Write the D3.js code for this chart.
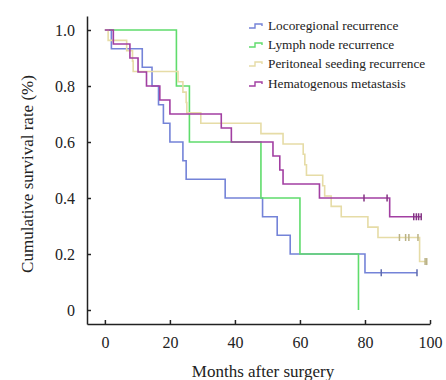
<!DOCTYPE html>
<html>
<head>
<meta charset="utf-8">
<script src="https://cdn.jsdelivr.net/npm/d3@7"></script>
<style>
  body { margin: 0; background: #fff; }
  svg { display: block; }
  .axis text { font-family: "Liberation Serif", "DejaVu Serif", serif; font-size: 16px; fill: #222; }
  .axis path, .axis line { stroke: #222; stroke-width: 1.5; }
</style>
</head>
<body>
<div id="chart"></div>
<script>
// survival steps (time in months, survival rate)
var locoTimes = [0, 2, 11.5, 14.5, 16.5, 18, 20, 24, 25, 37, 48.5, 53, 57, 80, 96];
var locoSurv = [1, 0.933, 0.867, 0.8, 0.733, 0.667, 0.6, 0.533, 0.467, 0.4, 0.333, 0.267, 0.2, 0.133, 0.133];
var locoCensor = [85, 96];

var lymphTimes = [0, 22, 26, 48, 60, 78];
var lymphSurv = [1, 0.8, 0.6, 0.4, 0.2, 0];
var lymphCensor = [];

var periTimes = [0, 1, 6.7, 8.5, 8.7, 22.5, 24, 25, 25.2, 29.5, 48, 54.8, 61, 61.5, 62, 67, 67.6, 69.6, 72.7, 80.9, 84, 96.8, 99];
var periSurv = [1, 0.963, 0.926, 0.889, 0.852, 0.815, 0.778, 0.741, 0.704, 0.667, 0.63, 0.593, 0.556, 0.519, 0.481, 0.444, 0.407, 0.37, 0.333, 0.296, 0.259, 0.173, 0.173];
var periCensor = [90.6, 92.5, 93.5, 96.3, 98.5, 99];

var hemaTimes = [0, 2.6, 7.7, 10.2, 12.8, 16.9, 20, 35.8, 38.9, 51.7, 53.8, 54.8, 66, 87.6, 97.3];
var hemaSurv = [1, 0.95, 0.9, 0.85, 0.8, 0.75, 0.7, 0.65, 0.6, 0.55, 0.5, 0.45, 0.4, 0.333, 0.333];
var hemaCensor = [79.7, 86.8, 95, 95.8, 96.5, 97.3];

var seriesNames = ['Locoregional recurrence', 'Lymph node recurrence', 'Peritoneal seeding recurrence', 'Hematogenous metastasis'];
var seriesColors = ['#7483d8', '#5fdc6c', '#e6dca6', '#a23fa2'];

var xTicks = [0, 20, 40, 60, 80, 100];
var yTicks = [0, 0.2, 0.4, 0.6, 0.8, 1.0];

var W = 446, H = 380;

var series = [
  { name: seriesNames[0], color: seriesColors[0], t: locoTimes, s: locoSurv, c: locoCensor },
  { name: seriesNames[1], color: seriesColors[1], t: lymphTimes, s: lymphSurv, c: lymphCensor },
  { name: seriesNames[2], color: seriesColors[2], t: periTimes, s: periSurv, c: periCensor },
  { name: seriesNames[3], color: seriesColors[3], t: hemaTimes, s: hemaSurv, c: hemaCensor }
];

var svg = d3.select('#chart').append('svg')
  .attr('width', W)
  .attr('height', H);

var xScale = d3.scaleLinear().domain([-5.5, 100]).range([87, 430]);
var yScale = d3.scaleLinear().domain([-0.05, 1.05]).range([324, 16]);

var xAxis = d3.axisBottom(xScale).tickValues(xTicks).tickSizeInner(-4).tickSizeOuter(0).tickPadding(13);
var yAxis = d3.axisLeft(yScale).tickValues(yTicks).tickSizeInner(-4).tickSizeOuter(0).tickPadding(12)
  .tickFormat(function(d) { return d === 0 ? '0' : d3.format('.1f')(d); });

svg.append('g')
  .attr('class', 'axis xaxis')
  .attr('transform', 'translate(0,324)')
  .call(xAxis);

svg.append('g')
  .attr('class', 'axis yaxis')
  .attr('transform', 'translate(87,0)')
  .call(yAxis);

svg.append('text')
  .attr('font-family', '"Liberation Serif", serif')
  .attr('font-size', 17)
  .attr('fill', '#222')
  .attr('text-anchor', 'middle')
  .attr('x', 263)
  .attr('y', 377)
  .text('Months after surgery');

svg.append('text')
  .attr('font-family', '"Liberation Serif", serif')
  .attr('font-size', 17)
  .attr('fill', '#222')
  .attr('text-anchor', 'middle')
  .attr('transform', 'translate(33,174) rotate(270)')
  .text('Cumulative survival rate (%)');

var line = d3.line()
  .x(function(d) { return xScale(d[0]); })
  .y(function(d) { return yScale(d[1]); })
  .curve(d3.curveStepAfter);

function survAt(sr, t) {
  var i = d3.bisectRight(sr.t, t) - 1;
  return sr.s[Math.max(i, 0)];
}

series.forEach(function(sr) {
  var pts = sr.t.map(function(t, i) { return [t, sr.s[i]]; });
  svg.append('path')
    .datum(pts)
    .attr('fill', 'none')
    .attr('stroke', sr.color)
    .attr('stroke-width', 1.6)
    .attr('d', line);

  svg.selectAll(null)
    .data(sr.c)
    .enter().append('line')
    .attr('x1', function(d) { return xScale(d); })
    .attr('x2', function(d) { return xScale(d); })
    .attr('y1', function(d) { return yScale(survAt(sr, d)) - 3.5; })
    .attr('y2', function(d) { return yScale(survAt(sr, d)) + 3.5; })
    .attr('stroke', d3.color(sr.color).darker(0.6))
    .attr('stroke-width', 1.5);
});

// legend
var legendY = [26, 45, 64, 84];
var lg = svg.append('g').attr('class', 'legend');
series.forEach(function(sr, i) {
  var gy = legendY[i];
  lg.append('path')
    .attr('d', 'M249,' + (gy + 2) + 'h6v-4h7v2')
    .attr('fill', 'none')
    .attr('stroke', sr.color)
    .attr('stroke-width', 1.4);
  lg.append('text')
    .attr('x', 268)
    .attr('y', gy + 4)
    .attr('font-family', '"Liberation Serif", serif')
    .attr('font-size', 13.3)
    .attr('fill', '#222')
    .text(sr.name);
});
</script>
</body>
</html>
